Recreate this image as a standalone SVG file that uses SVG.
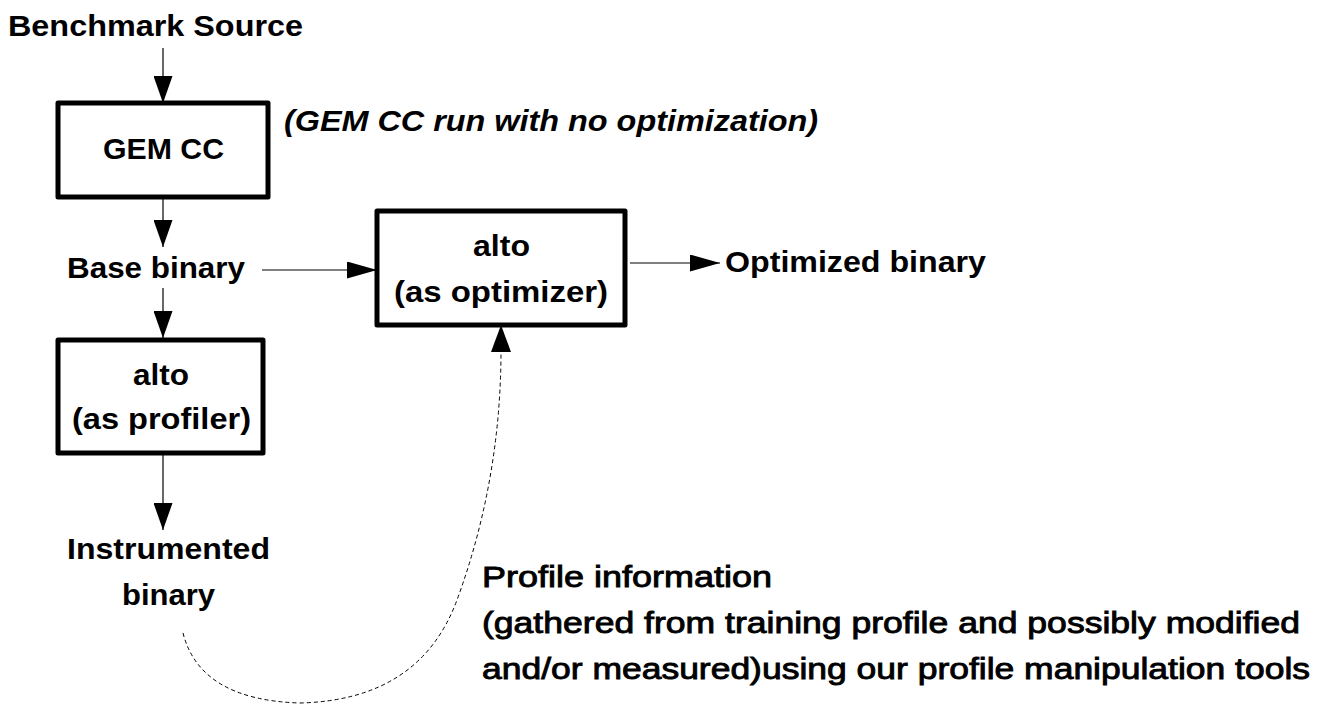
<svg xmlns="http://www.w3.org/2000/svg" width="1327" height="704" viewBox="0 0 1327 704">
<defs>
<style>
.t{font-family:"Liberation Sans",Arial,sans-serif;font-size:30px;font-weight:bold;fill:#000}
.n{font-family:"Liberation Sans",Arial,sans-serif;font-size:30px;font-weight:normal;fill:#000;stroke:#000;stroke-width:0.9}
.box{fill:#fff;stroke:#000;stroke-width:5;stroke-linejoin:round}
.ln{fill:none;stroke:#000;stroke-width:1.2}
.dash{fill:none;stroke:#000;stroke-width:1;stroke-dasharray:4,3}
</style>
<marker id="av" markerWidth="27" markerHeight="19" refX="27" refY="9.5" orient="auto" markerUnits="userSpaceOnUse" viewBox="0 0 27 19">
<path d="M0,0 L27,9.5 L0,19 Z" fill="#000"/>
</marker>
<marker id="ah" markerWidth="30" markerHeight="17" refX="30" refY="8.5" orient="auto" markerUnits="userSpaceOnUse" viewBox="0 0 30 17">
<path d="M0,0 L30,8.5 L0,17 Z" fill="#000"/>
</marker>
</defs>
<rect width="1327" height="704" fill="#fff"/>
<g id="connectors">
<line class="ln" x1="163" y1="48" x2="163" y2="103" marker-end="url(#av)"/>
<line class="ln" x1="163" y1="197" x2="163" y2="247" marker-end="url(#av)"/>
<line class="ln" x1="163" y1="288" x2="163" y2="338" marker-end="url(#av)"/>
<line class="ln" x1="163" y1="455" x2="163" y2="530" marker-end="url(#av)"/>
<line class="ln" x1="262" y1="270" x2="377" y2="270" marker-end="url(#ah)"/>
<line class="ln" x1="630" y1="263" x2="720" y2="263" marker-end="url(#ah)"/>
<path class="dash" d="M183,633 Q200,700 300,703 Q420,700 457,600 Q501,480 501,350"/>
<path d="M491,352 L501,325 L511,352 Z" fill="#000"/>
</g>
<g id="benchmark-source"><text class="t" x="8" y="36" textLength="295" lengthAdjust="spacingAndGlyphs">Benchmark Source</text></g>
<g id="gem-cc">
<rect class="box" x="58" y="103" width="210" height="94"/>
<text class="t" x="103" y="159" font-size="32" textLength="121" lengthAdjust="spacingAndGlyphs">GEM CC</text>
</g>
<g id="gem-note"><text class="t" font-style="italic" x="284" y="131" textLength="534" lengthAdjust="spacingAndGlyphs">(GEM CC run with no optimization)</text></g>
<g id="base-binary"><text class="t" x="67" y="278" textLength="178" lengthAdjust="spacingAndGlyphs">Base binary</text></g>
<g id="alto-profiler">
<rect class="box" x="58" y="340" width="205" height="113"/>
<text class="t" x="133" y="385" textLength="56" lengthAdjust="spacingAndGlyphs">alto</text>
<text class="t" x="72" y="429" textLength="179" lengthAdjust="spacingAndGlyphs">(as profiler)</text>
</g>
<g id="instrumented-binary">
<text class="t" x="67" y="559" textLength="203" lengthAdjust="spacingAndGlyphs">Instrumented</text>
<text class="t" x="122" y="605" textLength="93" lengthAdjust="spacingAndGlyphs">binary</text>
</g>
<g id="alto-optimizer">
<rect class="box" x="377" y="211" width="248" height="114"/>
<text class="t" x="473" y="256" textLength="57" lengthAdjust="spacingAndGlyphs">alto</text>
<text class="t" x="394" y="302" textLength="214" lengthAdjust="spacingAndGlyphs">(as optimizer)</text>
</g>
<g id="optimized-binary"><text class="t" x="725" y="272" textLength="261" lengthAdjust="spacingAndGlyphs">Optimized binary</text></g>
<g id="profile-information">
<text class="n" x="482" y="587" textLength="290" lengthAdjust="spacingAndGlyphs">Profile information</text>
<text class="n" x="482" y="633" textLength="818" lengthAdjust="spacingAndGlyphs">(gathered from training profile and possibly modified</text>
<text class="n" x="482" y="679" textLength="828" lengthAdjust="spacingAndGlyphs">and/or measured)using our profile manipulation tools</text>
</g>
</svg>
